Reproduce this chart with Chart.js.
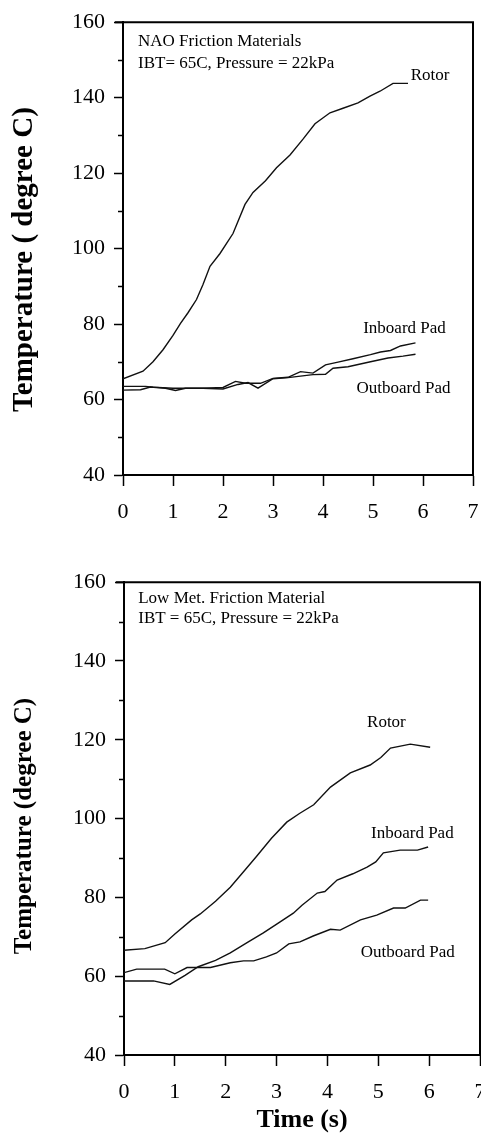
<!DOCTYPE html>
<html>
<head>
<meta charset="utf-8">
<script src="https://cdn.jsdelivr.net/npm/chart.js@4.4.0/dist/chart.umd.min.js"></script>
<style>
  html, body { margin: 0; padding: 0; background: #fff; }
  body { width: 481px; height: 1134px; position: relative; overflow: hidden; }
  #naoChart { position: absolute; left: 0; top: 0; }
  #lowMetChart { position: absolute; left: 0; top: 560px; }
</style>
</head>
<body>
<canvas id="naoChart" width="481" height="560"></canvas>
<canvas id="lowMetChart" width="481" height="574"></canvas>
<script>
// ---- NAO friction materials (time in s, temperature in degree C) ----
const naoRotorTime = [0, 0.4, 0.6, 0.8, 1.0, 1.15, 1.3, 1.47, 1.6, 1.74, 1.94, 2.2, 2.44, 2.6, 2.85, 3.07, 3.34, 3.6, 3.84, 4.14, 4.4, 4.7, 4.94, 5.14, 5.4, 5.7];
const naoRotorTemp = [65.5, 67.5, 70, 73.2, 77, 80.2, 83, 86.5, 90.5, 95.3, 98.7, 104, 111.7, 114.9, 118, 121.4, 124.8, 129, 133.1, 136, 137.2, 138.6, 140.4, 141.7, 143.8, 143.8];

const naoInboardTime = [0, 0.45, 0.6, 1.0, 1.3, 1.6, 2.0, 2.25, 2.45, 2.75, 3.0, 3.3, 3.55, 3.8, 4.05, 4.3, 4.6, 4.95, 5.15, 5.35, 5.55, 5.85];
const naoInboardTemp = [63.5, 63.5, 63.3, 63, 63, 63, 63.2, 64.8, 64.3, 64.3, 65.6, 65.9, 67.4, 67, 69.2, 69.9, 70.8, 71.9, 72.6, 73, 74.2, 75];

const naoOutboardTime = [0, 0.35, 0.55, 0.85, 1.05, 1.25, 1.6, 2.0, 2.3, 2.5, 2.7, 3.0, 3.3, 3.55, 3.8, 4.05, 4.2, 4.5, 4.95, 5.3, 5.6, 5.85];
const naoOutboardTemp = [62.5, 62.6, 63.3, 63, 62.4, 63, 63, 62.8, 64, 64.5, 63, 65.5, 65.8, 66.2, 66.6, 66.7, 68.3, 68.7, 70, 71, 71.5, 72];

// ---- Low metallic friction material ----
const lowMetRotorTime = [0, 0.41, 0.81, 1.0, 1.33, 1.5, 1.8, 2.09, 2.35, 2.6, 2.9, 3.2, 3.45, 3.73, 4.06, 4.45, 4.84, 5.05, 5.24, 5.63, 6.02];
const lowMetRotorTemp = [66.6, 67, 68.5, 70.7, 74.3, 75.8, 79, 82.6, 86.5, 90.3, 95, 99.1, 101.3, 103.5, 108, 111.6, 113.6, 115.5, 117.9, 118.9, 118.1];

const lowMetInboardTime = [0, 0.58, 0.9, 1.2, 1.46, 1.8, 2.09, 2.42, 2.74, 3.07, 3.33, 3.5, 3.8, 3.95, 4.19, 4.5, 4.78, 4.95, 5.1, 5.43, 5.77, 5.98];
const lowMetInboardTemp = [58.8, 58.8, 57.9, 60.2, 62.4, 64, 65.9, 68.5, 71, 73.8, 76, 78, 81.1, 81.5, 84.4, 86, 87.7, 89, 91.3, 92, 92, 92.8];

const lowMetOutboardTime = [0, 0.25, 0.8, 1.0, 1.24, 1.7, 2.09, 2.35, 2.55, 2.8, 3.0, 3.24, 3.46, 3.72, 4.06, 4.25, 4.65, 4.97, 5.3, 5.53, 5.83, 5.98];
const lowMetOutboardTemp = [60.9, 61.8, 61.8, 60.6, 62.2, 62.2, 63.4, 63.9, 63.9, 64.9, 65.9, 68.2, 68.7, 70.2, 71.9, 71.7, 74.3, 75.5, 77.3, 77.3, 79.3, 79.3];

// ---- Axis ticks ----
const timeTicks = [0, 1, 2, 3, 4, 5, 6, 7];
const tempTicks = [40, 60, 80, 100, 120, 140, 160];
const tempMinorTicks = [50, 70, 90, 110, 130, 150];

const SERIF = '"Liberation Serif", "Times New Roman", serif';

function toPoints(xs, ys) {
  return xs.map((x, i) => ({ x: x, y: ys[i] }));
}

// Closes the frame on the top and right, and adds short minor ticks on the y axis.
const framePlugin = {
  id: 'frame',
  afterDraw(chart) {
    const { ctx, chartArea: a, scales: { y } } = chart;
    ctx.save();
    ctx.strokeStyle = '#000';
    ctx.lineWidth = 2;
    ctx.beginPath();
    ctx.moveTo(a.left - 8, a.top);
    ctx.lineTo(a.right, a.top);
    ctx.lineTo(a.right, a.bottom);
    ctx.stroke();
    ctx.lineWidth = 1.5;
    ctx.beginPath();
    for (const v of tempMinorTicks) {
      const py = Math.round(y.getPixelForValue(v)) + 0.5;
      ctx.moveTo(a.left - 5, py);
      ctx.lineTo(a.left, py);
    }
    ctx.stroke();
    ctx.restore();
  }
};

// Free text placed at data coordinates, plus the rotated temperature axis title.
const notesPlugin = {
  id: 'notes',
  afterDatasetsDraw(chart, args, opts) {
    const { ctx, scales: { x, y } } = chart;
    ctx.save();
    ctx.fillStyle = '#000';
    ctx.textBaseline = 'middle';
    ctx.font = opts.font;
    for (const n of opts.items) {
      ctx.textAlign = n.align || 'center';
      ctx.fillText(n.text, x.getPixelForValue(n.x), y.getPixelForValue(n.y));
    }
    const t = opts.yTitle;
    ctx.translate(t.left, y.getPixelForValue(t.at));
    ctx.rotate(-Math.PI / 2);
    ctx.textAlign = 'center';
    ctx.font = t.font;
    ctx.fillText(t.text, 0, 0);
    ctx.restore();
  }
};

function lineSet(label, xs, ys) {
  return {
    label: label,
    data: toPoints(xs, ys),
    borderColor: '#111',
    borderWidth: 1.4,
    pointRadius: 0,
    tension: 0,
    fill: false
  };
}

function buildChart(canvasId, o) {
  return new Chart(document.getElementById(canvasId), {
    type: 'line',
    data: { datasets: o.datasets },
    plugins: [framePlugin, notesPlugin],
    options: {
      responsive: false,
      animation: false,
      events: [],
      layout: { padding: o.padding },
      plugins: {
        legend: { display: false },
        tooltip: { enabled: false },
        notes: { font: '17px ' + SERIF, items: o.notes, yTitle: o.yTitle }
      },
      scales: {
        x: {
          type: 'linear',
          min: 0, max: 7,
          afterBuildTicks: (s) => { s.ticks = timeTicks.map(v => ({ value: v })); },
          afterFit: (s) => { s.height = o.xAxisHeight; s.paddingLeft = 0; s.paddingRight = 0; },
          grid: { drawOnChartArea: false, tickLength: 11, tickWidth: 1.5, tickColor: '#000' },
          border: { color: '#000', width: 2 },
          ticks: { color: '#000', font: { family: SERIF, size: 22 }, padding: 13, maxRotation: 0, autoSkip: false },
          title: o.xTitle
        },
        y: {
          type: 'linear',
          min: 40, max: 160,
          afterBuildTicks: (s) => { s.ticks = tempTicks.map(v => ({ value: v })); },
          afterFit: (s) => { s.width = o.yAxisWidth; },
          grid: { drawOnChartArea: false, tickLength: 9, tickWidth: 1.5, tickColor: '#000' },
          border: { color: '#000', width: 2 },
          ticks: { color: '#000', font: { family: SERIF, size: 22 }, padding: 9, autoSkip: false },
          title: { display: false }
        }
      }
    }
  });
}

buildChart('naoChart', {
  padding: { top: 15, right: 8, bottom: 0, left: 0 },
  xAxisHeight: 85,
  yAxisWidth: 123,
  datasets: [
    lineSet('Rotor', naoRotorTime, naoRotorTemp),
    lineSet('Inboard Pad', naoInboardTime, naoInboardTemp),
    lineSet('Outboard Pad', naoOutboardTime, naoOutboardTemp)
  ],
  notes: [
    { text: 'NAO Friction Materials', x: 0.3, y: 154.8, align: 'left' },
    { text: 'IBT= 65C, Pressure = 22kPa', x: 0.3, y: 149.1, align: 'left' },
    { text: 'Rotor', x: 6.14, y: 145.9 },
    { text: 'Inboard Pad', x: 5.63, y: 78.9 },
    { text: 'Outboard Pad', x: 5.61, y: 63 }
  ],
  xTitle: { display: false },
  yTitle: { text: 'Temperature ( degree C)', font: 'bold 29px ' + SERIF, left: 25, at: 97.1 }
});

buildChart('lowMetChart', {
  padding: { top: 22, right: 1, bottom: 0, left: 0 },
  xAxisHeight: 79,
  yAxisWidth: 124,
  datasets: [
    lineSet('Rotor', lowMetRotorTime, lowMetRotorTemp),
    lineSet('Inboard Pad', lowMetInboardTime, lowMetInboardTemp),
    lineSet('Outboard Pad', lowMetOutboardTime, lowMetOutboardTemp)
  ],
  notes: [
    { text: 'Low Met. Friction Material', x: 0.28, y: 155.9, align: 'left' },
    { text: 'IBT = 65C, Pressure = 22kPa', x: 0.28, y: 150.9, align: 'left' },
    { text: 'Rotor', x: 5.16, y: 124.3 },
    { text: 'Inboard Pad', x: 5.67, y: 96.3 },
    { text: 'Outboard Pad', x: 5.58, y: 66.1 }
  ],
  xTitle: {
    display: true, text: 'Time (s)', color: '#000',
    font: { family: SERIF, size: 26, weight: 'bold', lineHeight: 1.0 },
    padding: { top: 0, bottom: 1 }
  },
  yTitle: { text: 'Temperature (degree C)', font: 'bold 25px ' + SERIF, left: 25, at: 98.1 }
});
</script>
</body>
</html>
